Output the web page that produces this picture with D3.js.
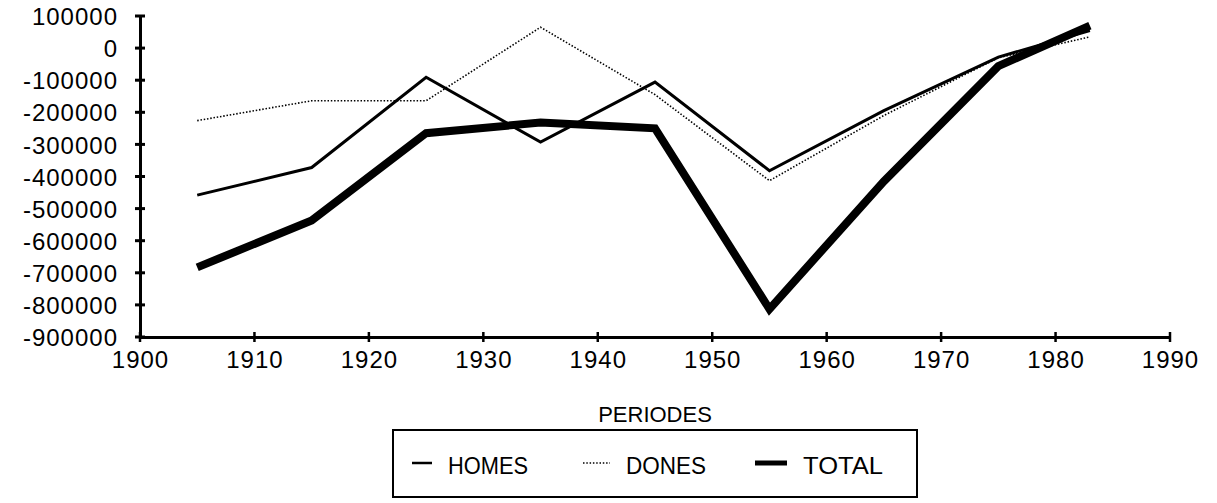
<!DOCTYPE html>
<html>
<head>
<meta charset="utf-8">
<script src="https://cdn.jsdelivr.net/npm/d3@7"></script>
<style>
  html, body { margin: 0; padding: 0; background: #fff; }
  svg text { font-family: "Liberation Sans", Arial, sans-serif; fill: #000; }
</style>
</head>
<body>
<div id="chart"></div>
<script>
// Data
const years = [1905, 1915, 1925, 1935, 1945, 1955, 1965, 1975, 1983];
const homes = [-458000, -372000, -91000, -293000, -106000, -382000, -195000, -28000, 55000];
const dones = [-226000, -164000, -164000, 65000, -145000, -413000, -210000, -30000, 35000];
const total = [-683000, -537000, -265000, -232000, -250000, -813000, -415000, -56000, 70000];
const xTicks = [1900, 1910, 1920, 1930, 1940, 1950, 1960, 1970, 1980, 1990];
const yTicks = [100000, 0, -100000, -200000, -300000, -400000, -500000, -600000, -700000, -800000, -900000];
const seriesNames = ['HOMES', 'DONES', 'TOTAL'];

document.addEventListener('DOMContentLoaded', function() {
  const width = 1217;
  const height = 503;

  const svg = d3.select('#chart').append('svg')
    .attr('width', width)
    .attr('height', height);

  // Scales
  const x = d3.scaleLinear().domain([1900, 1990]).range([140, 1170]);
  const y = d3.scaleLinear().domain([-900000, 100000]).range([337, 16]);

  // Line styles per series
  const styles = {
    HOMES: { width: 3, dash: null },
    DONES: { width: 1.6, dash: '1.5,1.8' },
    TOTAL: { width: 8, dash: null }
  };
  const values = { HOMES: homes, DONES: dones, TOTAL: total };

  // Y axis
  const yAxis = svg.append('g')
    .attr('transform', `translate(${x(1900)},0)`)
    .call(d3.axisLeft(y).tickValues(yTicks).tickSize(0).tickPadding(22)
      .tickFormat(d => String(d)));
  yAxis.select('.domain').attr('stroke', '#000').attr('stroke-width', 3);
  yAxis.selectAll('text')
    .attr('font-size', '24px')
    .attr('letter-spacing', '1px')
    .attr('dy', '0.36em');

  // X axis
  const xAxis = svg.append('g')
    .attr('transform', `translate(0,${y(-900000)})`)
    .call(d3.axisBottom(x).tickValues(xTicks).tickSize(0).tickPadding(14)
      .tickFormat(d => String(d)));
  xAxis.select('.domain').attr('stroke', '#000').attr('stroke-width', 3);
  xAxis.selectAll('text')
    .attr('font-size', '24px')
    .attr('letter-spacing', '1px');

  // Cross-shaped tick marks
  svg.append('g').selectAll('line')
    .data(yTicks)
    .join('line')
    .attr('x1', x(1900) - 5)
    .attr('x2', x(1900) + 5)
    .attr('y1', d => y(d))
    .attr('y2', d => y(d))
    .attr('stroke', '#000')
    .attr('stroke-width', 3);

  svg.append('g').selectAll('line')
    .data(xTicks)
    .join('line')
    .attr('x1', d => x(d))
    .attr('x2', d => x(d))
    .attr('y1', y(-900000) - 5)
    .attr('y2', y(-900000) + 5)
    .attr('stroke', '#000')
    .attr('stroke-width', 2.5);

  // X axis label
  svg.append('text')
    .attr('text-anchor', 'middle')
    .attr('x', (x(1900) + x(1990)) / 2)
    .attr('y', 422)
    .attr('font-size', '22px')
    .text('PERIODES');

  // Lines
  const line = d3.line()
    .x(d => x(d[0]))
    .y(d => y(d[1]));

  seriesNames.forEach(name => {
    const pts = years.map((yr, i) => [yr, values[name][i]]);
    svg.append('path')
      .datum(pts)
      .attr('fill', 'none')
      .attr('stroke', '#000')
      .attr('stroke-width', styles[name].width)
      .attr('stroke-dasharray', styles[name].dash)
      .attr('stroke-linejoin', 'miter')
      .attr('d', line);
  });

  // Legend
  const legend = svg.append('g');
  legend.append('rect')
    .attr('x', 393)
    .attr('y', 430)
    .attr('width', 524)
    .attr('height', 67)
    .attr('fill', 'none')
    .attr('stroke', '#000')
    .attr('stroke-width', 2);

  const legendX = [412, 583, 755];
  const sampleLen = [20, 27, 32];
  seriesNames.forEach((name, i) => {
    legend.append('line')
      .attr('x1', legendX[i])
      .attr('x2', legendX[i] + sampleLen[i])
      .attr('y1', 463)
      .attr('y2', 463)
      .attr('stroke', '#000')
      .attr('stroke-width', i === 2 ? 5 : (i === 0 ? 2.5 : 1.6))
      .attr('stroke-dasharray', styles[name].dash);

    legend.append('text')
      .attr('x', legendX[i] + sampleLen[i] + 16)
      .attr('y', 474)
      .attr('font-size', '24px')
      .attr('textLength', 80)
      .attr('lengthAdjust', 'spacingAndGlyphs')
      .text(name);
  });
});
</script>
</body>
</html>
